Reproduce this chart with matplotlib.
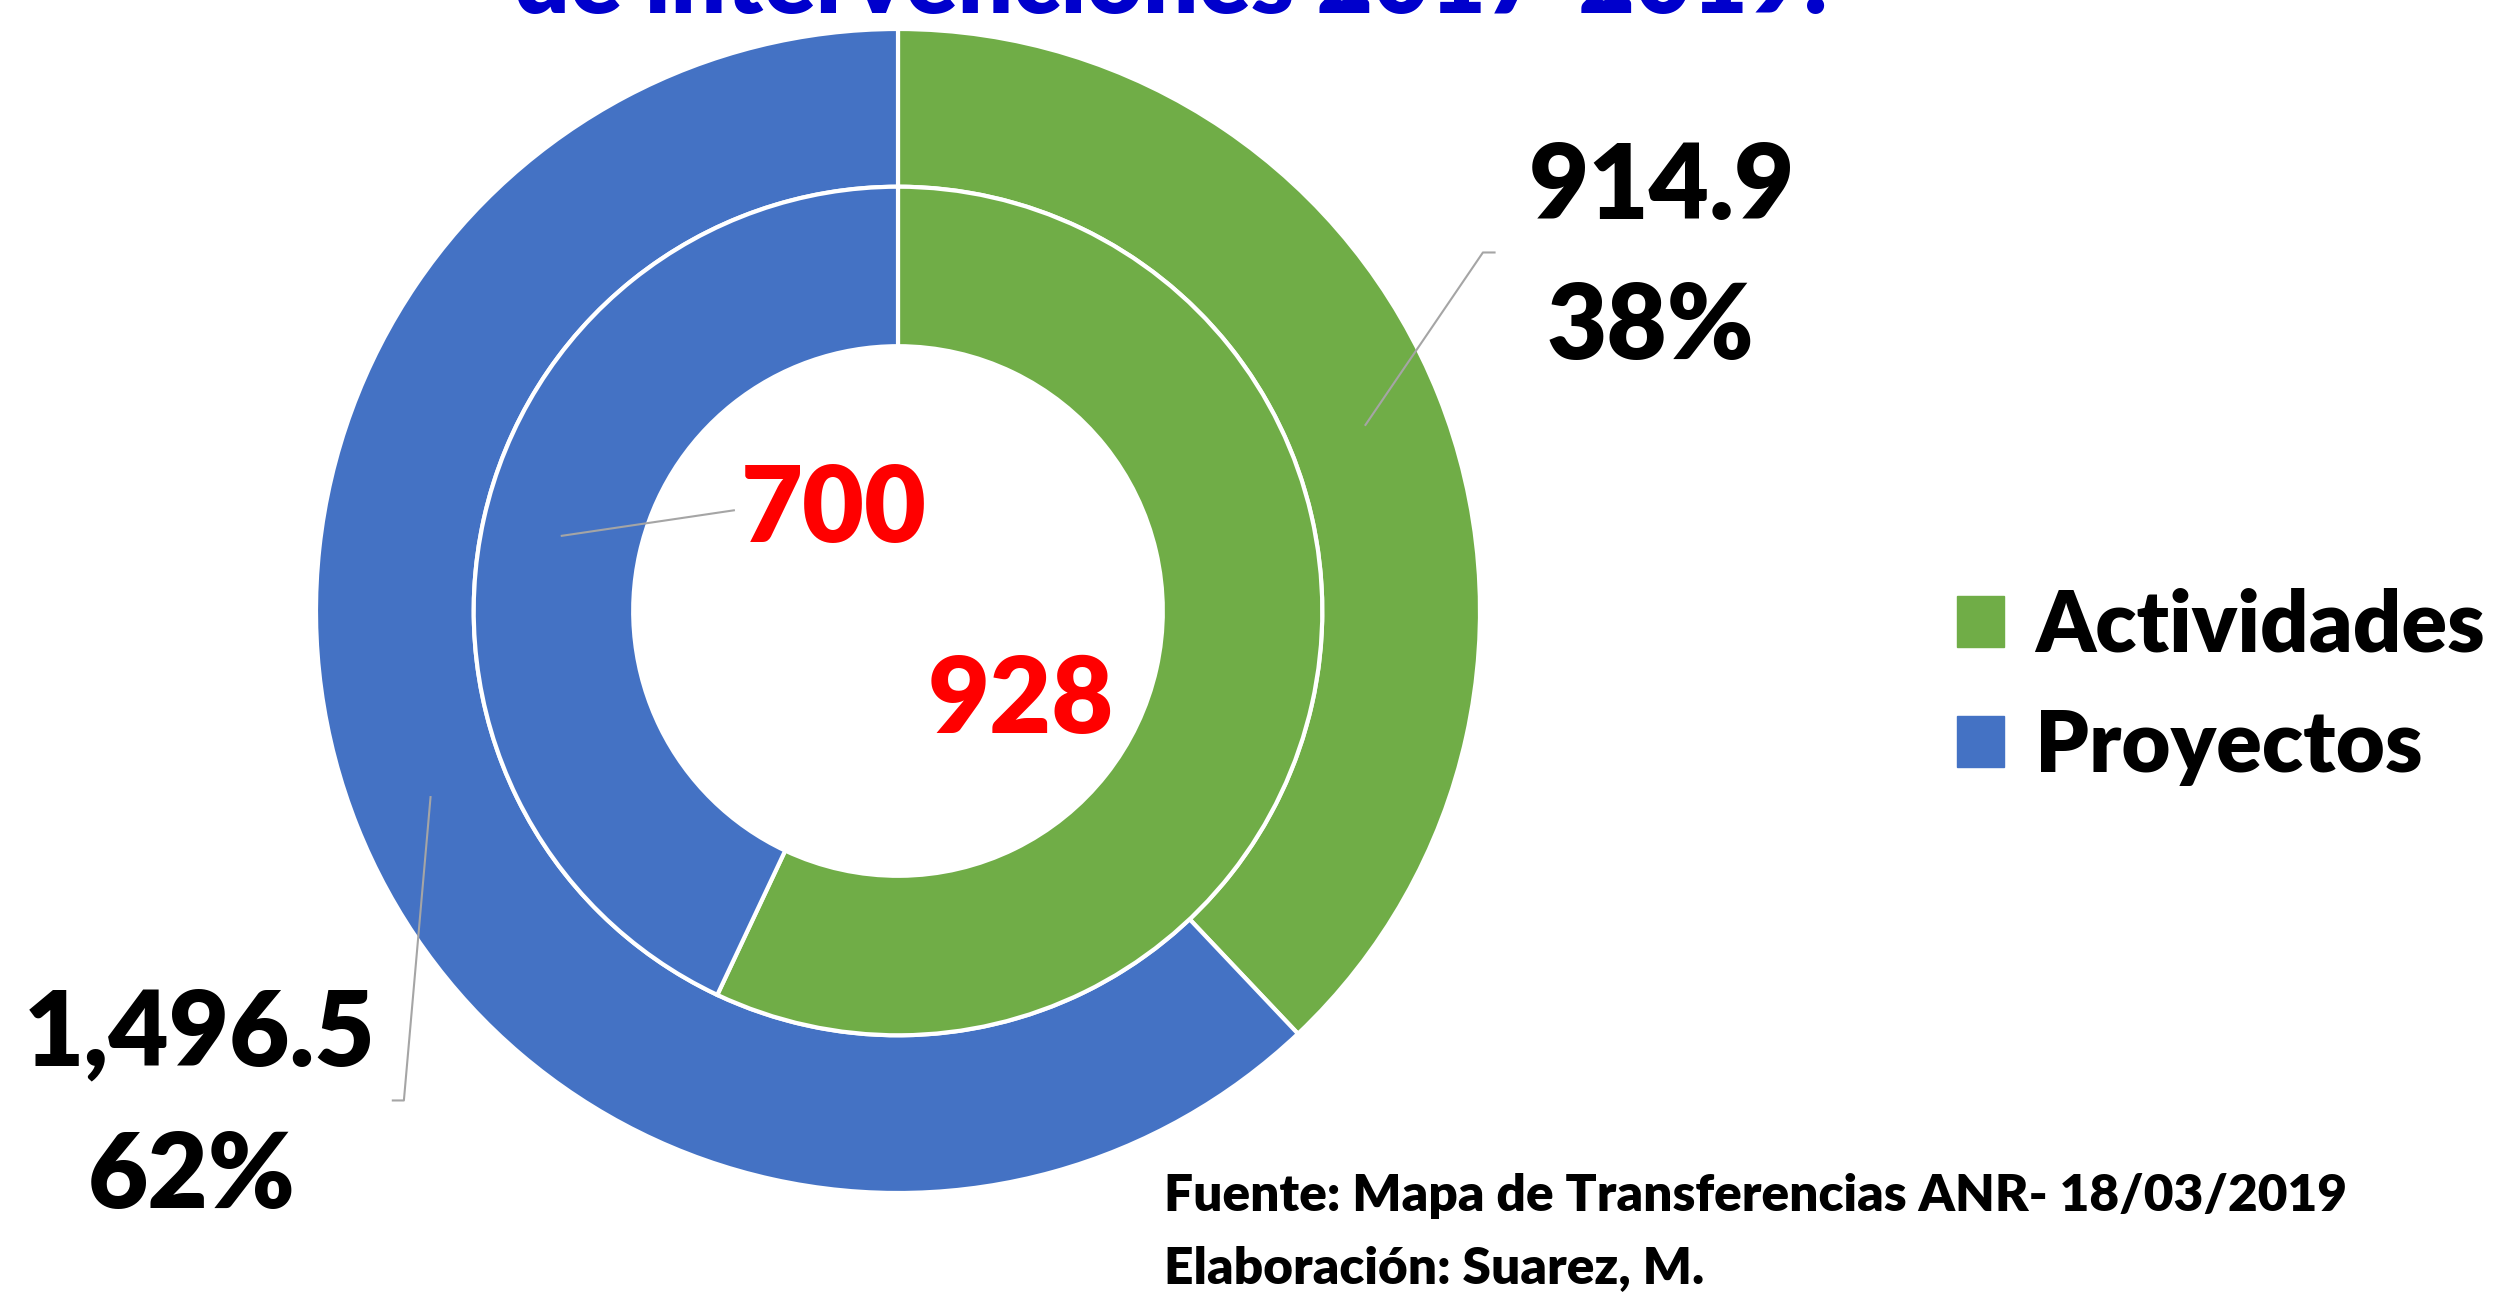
import numpy as np
import matplotlib
matplotlib.use("Agg")
import matplotlib.pyplot as plt
import matplotlib.patches as m_patches

plt.rcParams['font.family'] = ['Lato', 'DejaVu Sans']
plt.rcParams['font.weight'] = 'bold'

# data
categories = ['Actividades', 'Proyectos']
monto = [914.9, 1496.5]          # outer ring
cantidad = [928, 700]            # inner ring
colors = ['#70AD47', '#4472C4']

W, H = 2501, 1293
fig = plt.figure(figsize=(W / 100, H / 100), dpi=100)

# pie centre / radius in pixels
cx, cy, R = 898, 611, 582
ax = fig.add_axes([(cx - R) / W, (H - cy - R) / H, 2 * R / W, 2 * R / H])

r_mid = 0.729
r_hole = 0.455
outer, _ = ax.pie(monto, radius=1.0, colors=colors, startangle=90, counterclock=False,
                  wedgeprops=dict(width=1.0 - r_mid, edgecolor='white', linewidth=3))
inner, _ = ax.pie(cantidad, radius=r_mid, colors=colors, startangle=90, counterclock=False,
                  wedgeprops=dict(width=r_mid - r_hole, edgecolor='white', linewidth=3))
ax.set_xlim(-1, 1)
ax.set_ylim(-1, 1)
ax.set_aspect('equal')
ax.axis('off')


def anchor(w, r):
    a = np.deg2rad((w.theta1 + w.theta2) / 2)
    return r * np.cos(a), r * np.sin(a)


lead = dict(color='#A5A5A5', lw=1.5, clip_on=False)
big = dict(fontsize=75, fontweight='heavy', color='black', ha='center', va='center', clip_on=False)
red = dict(fontsize=77, fontweight='heavy', color='#FF0000', ha='center', va='center')

pct = [v / sum(monto) * 100 for v in monto]

# Actividades outer
x0, y0 = anchor(outer[0], (1 + r_mid) / 2)
ax.plot([x0, 1.005, 1.025], [y0, 0.616, 0.616], **lead)
ax.text(1.312, 0.726, f"{monto[0]:,.1f}", **big)
ax.text(1.293, 0.485, f"{pct[0]:.0f}%", **big)

# Proyectos outer
x0, y0 = anchor(outer[1], (1 + r_mid) / 2)
ax.plot([x0, -0.849, -0.868], [y0, -0.841, -0.841], **lead)
ax.text(-1.2, -0.729, f"{monto[1]:,.1f}", **big)
ax.text(-1.214, -0.973, f"{pct[1]:.0f}%", **big)

# inner labels
x0, y0 = anchor(inner[1], (r_mid + r_hole) / 2)
ax.plot([x0, -0.282], [y0, 0.173], **lead)
ax.text(-0.11, 0.173, f"{cantidad[1]}", **red)
ax.text(0.211, -0.156, f"{cantidad[0]}", **red)

# title (cut off at the top)
fig.text(0.468, 1 - 13 / H, "de intervenciones 2017-2019.", fontsize=70, fontweight='heavy',
         color='#0000CC', ha='center', va='baseline')

# legend
handles = [m_patches.Patch(color=c, label=l) for c, l in zip(colors, categories)]
fig.legend(handles=handles, loc='center left', bbox_to_anchor=(1957 / W, 0.469),
           frameon=False, prop=dict(size=61, weight='heavy'), handlelength=0.55, handleheight=0.55,
           handletextpad=0.37, labelspacing=0.5, borderpad=0, borderaxespad=0)

fig.text(1164 / W, 1 - 1196 / H, "Fuente: Mapa de Transferencias ANR- 18/03/2019",
         fontsize=37, fontweight='heavy', ha='left', va='center')
fig.text(1164 / W, 1 - 1268 / H, "Elaboración: Suarez, M.",
         fontsize=37, fontweight='heavy', ha='left', va='center')

fig.savefig('out.png', dpi=100)
